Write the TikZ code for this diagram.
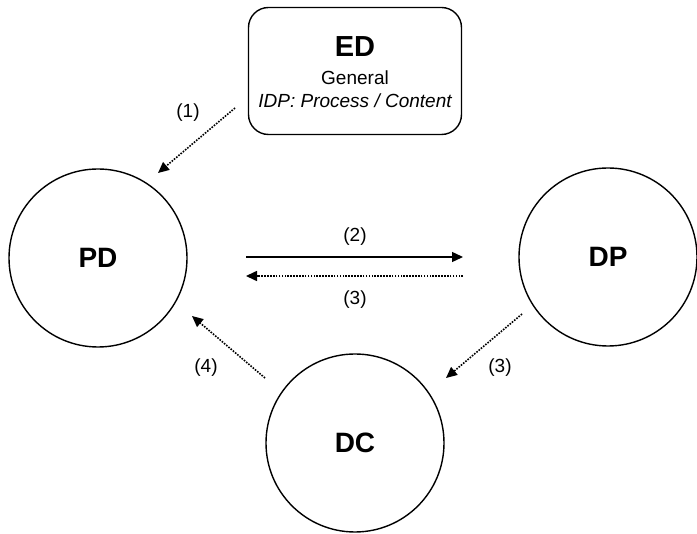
\documentclass[tikz,border=0pt]{standalone}
\usepackage{fontspec}
\setmainfont{Liberation Sans}
\usetikzlibrary{arrows.meta}

\tikzset{
  actor/.style={draw,circle,line width=1.4pt,minimum size=178pt,inner sep=0pt,font=\fontsize{28}{30}\selectfont\bfseries},
  flow/.style={line width=1.4pt,-{Triangle[length=11pt,width=10pt]}},
  dotflow/.style={flow,line width=1.6pt,dash pattern=on 1.6pt off 1.3pt},
  lbl/.style={font=\fontsize{19}{22}\selectfont}
}

\begin{document}
\begin{tikzpicture}[x=1pt,y=-1pt]
\useasboundingbox (0,0) rectangle (697,534);
\node[actor] (PD) at (98,258) {PD};
\node[actor] (DP) at (608,257) {DP};
\node[actor] (DC) at (355,443) {DC};
\node[draw,rounded corners=20pt,line width=1.4pt,minimum width=213pt,minimum height=127pt] (ED) at (355,71) {};
\node[anchor=base,inner sep=0pt,font=\fontsize{29}{32}\selectfont\bfseries] (EDname) at (355,57) {ED};
\node[anchor=base,inner sep=0pt,lbl] (EDkind) at (355,85) {General};
\node[anchor=base,inner sep=0pt,font=\fontsize{19}{22}\selectfont\itshape] (EDidp) at (355,108) {IDP: Process / Content};
% free ends of the connectors
\coordinate (a1) at (235,108);
\coordinate (b1) at (158,173);
\coordinate (a2) at (246,257);
\coordinate (b2) at (463,257);
\coordinate (a3) at (463,276);
\coordinate (b3) at (246,276);
\coordinate (a4) at (265,378);
\coordinate (b4) at (192,316);
\coordinate (a5) at (522,314);
\coordinate (b5) at (446,378);
\draw[dotflow] (a1) -- (b1);
\draw[flow] (a2) -- (b2);
\draw[dotflow] (a3) -- (b3);
\draw[dotflow] (a4) -- (b4);
\draw[dotflow] (a5) -- (b5);
\node[lbl] (l1) at (188,113) {(1)};
\node[lbl] (l2) at (355,237) {(2)};
\node[lbl] (l3) at (355,300) {(3)};
\node[lbl] (l4) at (206,368) {(4)};
\node[lbl] (l5) at (500,368) {(3)};
\end{tikzpicture}
\end{document}
